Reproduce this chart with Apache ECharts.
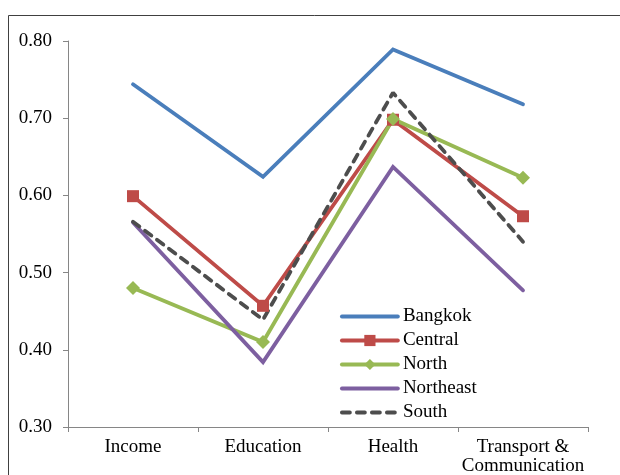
<!DOCTYPE html>
<html>
<head>
<meta charset="utf-8">
<script src="https://cdn.jsdelivr.net/npm/echarts@6/dist/echarts.min.js"></script>
<style>
html,body{margin:0;padding:0;background:#fff;}
#c{width:620px;height:475px;}
</style>
</head>
<body>
<div id="c"></div>
<script>
var categories = ['Income', 'Education', 'Health', 'Transport &\nCommunication'];
var seriesNames = ['Bangkok', 'Central', 'North', 'Northeast', 'South'];
var bangkok   = [0.744, 0.624, 0.789, 0.718];
var central   = [0.599, 0.457, 0.698, 0.573];
var north     = [0.480, 0.410, 0.699, 0.623];
var northeast = [0.565, 0.384, 0.637, 0.477];
var south     = [0.566, 0.439, 0.733, 0.540];
var yTicks = { min: 0.3, max: 0.8, step: 0.1 };

var font = 'Liberation Serif';
var chart = echarts.init(document.getElementById('c'), null, {renderer: 'canvas'});
function lineSeries(name, data, color, opts) {
  var s = {
    name: name, type: 'line', data: data,
    symbol: 'none', symbolSize: 10,
    lineStyle: {width: 3.8, color: color, cap: 'round', join: 'miter'},
    itemStyle: {color: color},
    emphasis: {disabled: true},
    animation: false
  };
  for (var k in opts) s[k] = opts[k];
  return s;
}
var hidden = {opacity: 0};
chart.setOption({
  backgroundColor: '#fff',
  animation: false,
  graphic: [{
    type: 'rect', silent: true,
    shape: {x: 8.5, y: 15.5, width: 700, height: 600},
    style: {fill: 'none', stroke: '#404040', lineWidth: 1}
  }],
  grid: {left: 68, right: 32, top: 41, bottom: 48, containLabel: false, outerBoundsMode: 'none'},
  legend: {
    orient: 'vertical', left: 335, top: 301,
    itemWidth: 56, itemHeight: 14, itemGap: 3,
    lineStyle: {width: 3.8},
    textStyle: {fontFamily: font, fontSize: 19, lineHeight: 21, color: '#000'},
    data: [
      {name: seriesNames[0], itemStyle: hidden},
      {name: seriesNames[1]},
      {name: seriesNames[2]},
      {name: seriesNames[3], itemStyle: hidden},
      {name: seriesNames[4], itemStyle: hidden}
    ]
  },
  xAxis: {
    type: 'category', data: categories, boundaryGap: true,
    axisLine: {lineStyle: {color: '#868686', width: 1}},
    axisTick: {show: true, length: 5, alignWithLabel: false, lineStyle: {color: '#868686'}},
    axisLabel: {fontFamily: font, fontSize: 19, color: '#000', margin: 11, lineHeight: 19, interval: 0}
  },
  yAxis: {
    type: 'value', min: yTicks.min, max: yTicks.max, interval: yTicks.step,
    axisLine: {show: true, lineStyle: {color: '#868686', width: 1}},
    axisTick: {show: true, length: 5, lineStyle: {color: '#868686'}},
    splitLine: {show: false},
    axisLabel: {fontFamily: font, fontSize: 19, color: '#000', margin: 16,
      formatter: function (v) { return v.toFixed(2); }}
  },
  series: [
    lineSeries(seriesNames[0], bangkok, '#4A7EBB', {}),
    lineSeries(seriesNames[1], central, '#BE4B48', {symbol: 'rect', symbolSize: 12}),
    lineSeries(seriesNames[2], north, '#98B954', {symbol: 'diamond', symbolSize: 14}),
    lineSeries(seriesNames[3], northeast, '#7D5FA0', {}),
    lineSeries(seriesNames[4], south, '#4D4D4D', {lineStyle: {width: 3.8, color: '#4D4D4D', type: [8, 7], cap: 'round'}})
  ]
});
</script>
</body>
</html>
